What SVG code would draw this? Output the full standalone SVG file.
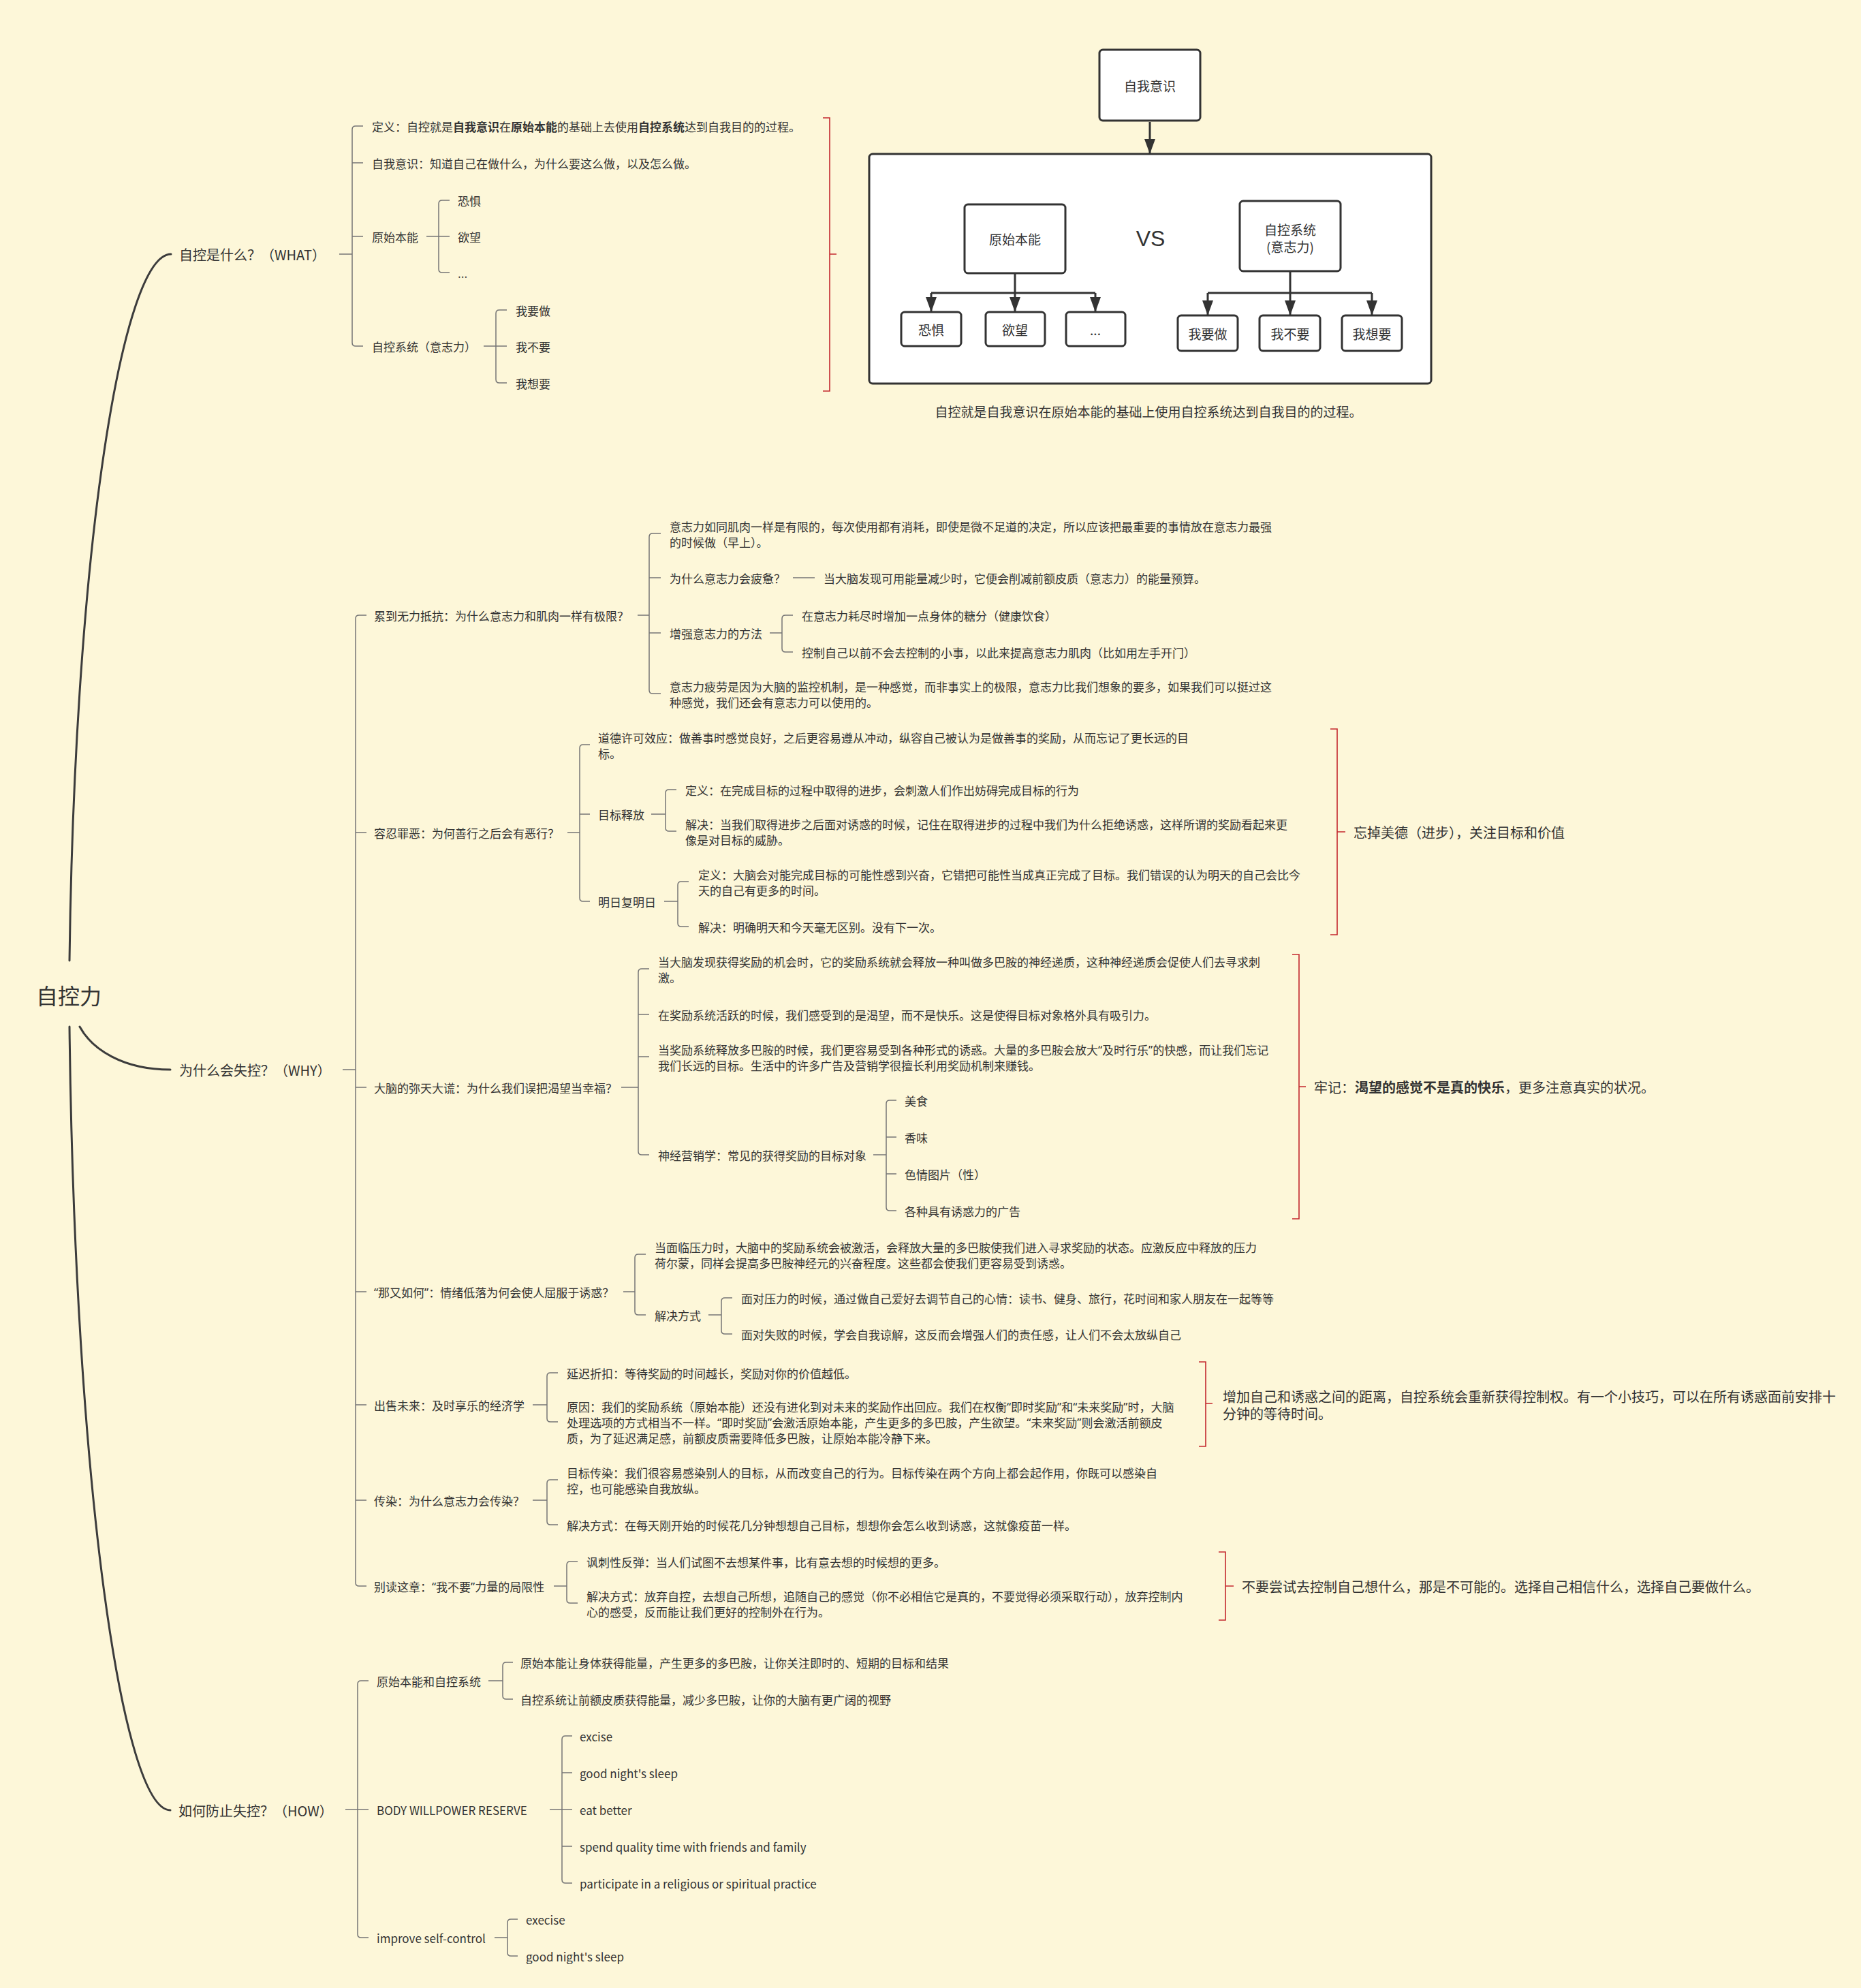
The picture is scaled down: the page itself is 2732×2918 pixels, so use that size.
<svg xmlns="http://www.w3.org/2000/svg" width="2732" height="2918" viewBox="0 0 2732 2918">
<style>
text{font-family:"Noto Sans CJK SC","Noto Sans",sans-serif;fill:#333;dominant-baseline:central}
.s{font-size:17px}
.m{font-size:20px}
.r{font-size:32px}
.d{font-size:19px}
.c{text-anchor:middle}
.b{font-weight:bold}
.q{font-family:"Noto Sans",sans-serif}
.ln{fill:none;stroke:#757575;stroke-width:1.5}
.rd{fill:none;stroke:#c3282e;stroke-width:1.6}
.mn{fill:none;stroke:#3c3c3c;stroke-width:3;stroke-linecap:round}
.bx{fill:#fff;stroke:#333;stroke-width:3}
.ar{fill:none;stroke:#333;stroke-width:3}
.en{font-family:"Liberation Sans",sans-serif}
</style>
<defs>
<marker id="ah" viewBox="0 0 22 16" refX="22" refY="8" markerWidth="22" markerHeight="16" markerUnits="userSpaceOnUse" orient="auto">
<path d="M0 0 L22 8 L0 16 z" fill="#333"/>
</marker>
</defs>
<rect width="2732" height="2918" fill="#fdf7d9"/>

<g id="n-diagram">
<rect class="bx" x="1614" y="73" width="148" height="104" rx="5"/>
<text class="d c" x="1688" y="125">自我意识</text>
<rect class="bx" x="1276" y="226" width="825" height="337" rx="5"/>
<rect class="bx" x="1416" y="300" width="148" height="101" rx="5"/>
<text class="d c" x="1490" y="350">原始本能</text>
<text class="c en" x="1689" y="350" font-size="32">VS</text>
<rect class="bx" x="1820" y="295" width="148" height="103" rx="5"/>
<text class="d c" x="1894" y="336">自控系统</text>
<text class="d c" x="1894" y="361">(意志力)</text>
<rect class="bx" x="1323" y="458" width="88" height="50" rx="5"/>
<text class="d c" x="1367" y="483">恐惧</text>
<rect class="bx" x="1447" y="458" width="87" height="50" rx="5"/>
<text class="d c" x="1490" y="483">欲望</text>
<rect class="bx" x="1565" y="458" width="87" height="50" rx="5"/>
<text class="d c" x="1608" y="483">...</text>
<rect class="bx" x="1729" y="463" width="88" height="52" rx="5"/>
<text class="d c" x="1773" y="489">我要做</text>
<rect class="bx" x="1849" y="463" width="89" height="52" rx="5"/>
<text class="d c" x="1894" y="489">我不要</text>
<rect class="bx" x="1970" y="463" width="88" height="52" rx="5"/>
<text class="d c" x="2014" y="489">我想要</text>
<text class="d c" x="1686" y="603">自控就是自我意识在原始本能的基础上使用自控系统达到自我目的的过程。</text>
</g>

<g id="connectors">
<path class="mn" d="M102 1410 C110 800 180 373 251 373"/>
<path class="mn" d="M117 1507 C135 1540 180 1570 250 1570"/>
<path class="mn" d="M102 1507 C110 2183 180 2657 250 2657"/>
<!-- WHAT -->
<path class="ln" d="M533 185 L522 185 Q517 185 517 190 L517 503 Q517 508 522 508 L533 508 M517 239 H533 M517 347 H533 M498 373 H517"/>
<path class="ln" d="M660 294 L649 294 Q644 294 644 299 L644 395 Q644 400 649 400 L660 400 M626 347 H660"/>
<path class="ln" d="M744 455 L733 455 Q728 455 728 460 L728 557 Q728 562 733 562 L744 562 M710 508 H744"/>
<path class="rd" d="M1208 173 H1218 V574 H1208 M1218 373 H1228"/>
<!-- WHY -->
<path class="ln" d="M538 903 L527 903 Q522 903 522 908 L522 2323 Q522 2328 527 2328 L538 2328 M522 1222 H538 M522 1596 H538 M522 1896 H538 M522 2062 H538 M522 2202 H538 M503 1570 H522"/>
<path class="ln" d="M970 783 L958 783 Q953 783 953 788 L953 1013 Q953 1018 958 1018 L970 1018 M953 848 H970 M953 929 H970 M936 903 H953"/>
<path class="ln" d="M1164 848 H1196"/>
<path class="ln" d="M1164 903 L1153 903 Q1148 903 1148 908 L1148 952 Q1148 957 1153 957 L1164 957 M1130 929 H1148"/>
<path class="ln" d="M866 1093 L856 1093 Q851 1093 851 1098 L851 1318 Q851 1323 856 1323 L866 1323 M851 1195 H866 M833 1222 H851"/>
<path class="ln" d="M993 1159 L982 1159 Q977 1159 977 1164 L977 1215 Q977 1220 982 1220 L993 1220 M956 1195 H977"/>
<path class="ln" d="M1011 1294 L1000 1294 Q995 1294 995 1299 L995 1355 Q995 1360 1000 1360 L1011 1360 M975 1323 H995"/>
<path class="rd" d="M1953 1070 H1963 V1372 H1953 M1963 1221 H1975"/>
<path class="ln" d="M953 1422 L942 1422 Q937 1422 937 1427 L937 1690 Q937 1695 942 1695 L953 1695 M937 1489 H953 M937 1551 H953 M912 1596 H937"/>
<path class="ln" d="M1316 1615 L1306 1615 Q1301 1615 1301 1620 L1301 1772 Q1301 1777 1306 1777 L1316 1777 M1301 1669 H1316 M1301 1723 H1316 M1282 1695 H1301"/>
<path class="rd" d="M1897 1401 H1907 V1789 H1897 M1907 1595 H1917"/>
<path class="ln" d="M948 1841 L937 1841 Q932 1841 932 1846 L932 1925 Q932 1930 937 1930 L948 1930 M915 1896 H932"/>
<path class="ln" d="M1075 1905 L1064 1905 Q1059 1905 1059 1910 L1059 1953 Q1059 1958 1064 1958 L1075 1958 M1040 1930 H1059"/>
<path class="ln" d="M819 2015 L808 2015 Q803 2015 803 2020 L803 2082 Q803 2087 808 2087 L819 2087 M782 2062 H803"/>
<path class="rd" d="M1760 1999 H1770 V2123 H1760 M1770 2060 H1780"/>
<path class="ln" d="M819 2172 L808 2172 Q803 2172 803 2177 L803 2233 Q803 2238 808 2238 L819 2238 M782 2202 H803"/>
<path class="ln" d="M848 2292 L837 2292 Q832 2292 832 2297 L832 2348 Q832 2353 837 2353 L848 2353 M813 2328 H832"/>
<path class="rd" d="M1789 2278 H1799 V2378 H1789 M1799 2328 H1811"/>
<!-- HOW -->
<path class="ln" d="M541 2467 L530 2467 Q525 2467 525 2472 L525 2839 Q525 2844 530 2844 L541 2844 M507 2656 H541"/>
<path class="ln" d="M753 2440 L743 2440 Q738 2440 738 2445 L738 2489 Q738 2494 743 2494 L753 2494 M717 2467 H738"/>
<path class="ln" d="M840 2548 L830 2548 Q825 2548 825 2553 L825 2759 Q825 2764 830 2764 L840 2764 M825 2602 H840 M825 2710 H840 M807 2656 H840"/>
<path class="ln" d="M760 2817 L750 2817 Q745 2817 745 2822 L745 2866 Q745 2871 750 2871 L760 2871 M726 2844 H745"/>
<!-- diagram arrows -->
<path class="ar" d="M1688 179 V226" marker-end="url(#ah)"/>
<path class="ar" d="M1490 402 V430 M1367 430 H1608"/>
<path class="ar" d="M1367 430 V458" marker-end="url(#ah)"/>
<path class="ar" d="M1490 430 V458" marker-end="url(#ah)"/>
<path class="ar" d="M1608 430 V458" marker-end="url(#ah)"/>
<path class="ar" d="M1894 399 V430 M1773 430 H2014"/>
<path class="ar" d="M1773 430 V463" marker-end="url(#ah)"/>
<path class="ar" d="M1894 430 V463" marker-end="url(#ah)"/>
<path class="ar" d="M2014 430 V463" marker-end="url(#ah)"/>
</g>

<g id="n-root"><text class="r" x="53" y="1460">自控力</text></g>

<g id="n-what"><text class="m" x="263" y="373">自控是什么？（WHAT）</text></g>
<g id="n-what-def"><text class="s" x="546" y="185">定义：自控就是<tspan class="b">自我意识</tspan>在<tspan class="b">原始本能</tspan>的基础上去使用<tspan class="b">自控系统</tspan>达到自我目的的过程。</text></g>
<g id="n-what-self"><text class="s" x="546" y="239">自我意识：知道自己在做什么，为什么要这么做，以及怎么做。</text></g>
<g id="n-what-inst"><text class="s" x="546" y="347">原始本能</text></g>
<g id="n-inst-1"><text class="s" x="672" y="294">恐惧</text></g>
<g id="n-inst-2"><text class="s" x="672" y="347">欲望</text></g>
<g id="n-inst-3"><text class="s" x="672" y="400">...</text></g>
<g id="n-what-sys"><text class="s" x="546" y="508">自控系统（意志力）</text></g>
<g id="n-sys-1"><text class="s" x="757" y="455">我要做</text></g>
<g id="n-sys-2"><text class="s" x="757" y="508">我不要</text></g>
<g id="n-sys-3"><text class="s" x="757" y="562">我想要</text></g>

<g id="n-why"><text class="m" x="263" y="1570">为什么会失控？（WHY）</text></g>

<g id="n-w1"><text class="s" x="549" y="903">累到无力抵抗：为什么意志力和肌肉一样有极限？</text></g>
<g id="n-w1a"><text class="s" x="983" y="772">意志力如同肌肉一样是有限的，每次使用都有消耗，即使是微不足道的决定，所以应该把最重要的事情放在意志力最强</text><text class="s" x="983" y="795">的时候做（早上）。</text></g>
<g id="n-w1b"><text class="s" x="983" y="848">为什么意志力会疲惫？</text></g>
<g id="n-w1b1"><text class="s" x="1209" y="848">当大脑发现可用能量减少时，它便会削减前额皮质（意志力）的能量预算。</text></g>
<g id="n-w1c"><text class="s" x="983" y="929">增强意志力的方法</text></g>
<g id="n-w1c1"><text class="s" x="1177" y="903">在意志力耗尽时增加一点身体的糖分（健康饮食）</text></g>
<g id="n-w1c2"><text class="s" x="1177" y="957">控制自己以前不会去控制的小事，以此来提高意志力肌肉（比如用左手开门）</text></g>
<g id="n-w1d"><text class="s" x="983" y="1007">意志力疲劳是因为大脑的监控机制，是一种感觉，而非事实上的极限，意志力比我们想象的要多，如果我们可以挺过这</text><text class="s" x="983" y="1030">种感觉，我们还会有意志力可以使用的。</text></g>

<g id="n-w2"><text class="s" x="549" y="1222">容忍罪恶：为何善行之后会有恶行？</text></g>
<g id="n-w2a"><text class="s" x="878" y="1082">道德许可效应：做善事时感觉良好，之后更容易遵从冲动，纵容自己被认为是做善事的奖励，从而忘记了更长远的目</text><text class="s" x="878" y="1105">标。</text></g>
<g id="n-w2b"><text class="s" x="878" y="1195">目标释放</text></g>
<g id="n-w2b1"><text class="s" x="1006" y="1159">定义：在完成目标的过程中取得的进步，会刺激人们作出妨碍完成目标的行为</text></g>
<g id="n-w2b2"><text class="s" x="1006" y="1209">解决：当我们取得进步之后面对诱惑的时候，记住在取得进步的过程中我们为什么拒绝诱惑，这样所谓的奖励看起来更</text><text class="s" x="1006" y="1232">像是对目标的威胁。</text></g>
<g id="n-w2c"><text class="s" x="878" y="1323">明日复明日</text></g>
<g id="n-w2c1"><text class="s" x="1025" y="1283">定义：大脑会对能完成目标的可能性感到兴奋，它错把可能性当成真正完成了目标。我们错误的认为明天的自己会比今</text><text class="s" x="1025" y="1306">天的自己有更多的时间。</text></g>
<g id="n-w2c2"><text class="s" x="1025" y="1360">解决：明确明天和今天毫无区别。没有下一次。</text></g>
<g id="n-w2s"><text class="m" x="1987" y="1221">忘掉美德（进步），关注目标和价值</text></g>

<g id="n-w3"><text class="s" x="549" y="1596">大脑的弥天大谎：为什么我们误把渴望当幸福？</text></g>
<g id="n-w3a"><text class="s" x="966" y="1411">当大脑发现获得奖励的机会时，它的奖励系统就会释放一种叫做多巴胺的神经递质，这种神经递质会促使人们去寻求刺</text><text class="s" x="966" y="1434">激。</text></g>
<g id="n-w3b"><text class="s" x="966" y="1489">在奖励系统活跃的时候，我们感受到的是渴望，而不是快乐。这是使得目标对象格外具有吸引力。</text></g>
<g id="n-w3c"><text class="s" x="966" y="1540">当奖励系统释放多巴胺的时候，我们更容易受到各种形式的诱惑。大量的多巴胺会放大<tspan class="q">“</tspan>及时行乐<tspan class="q">”</tspan>的快感，而让我们忘记</text><text class="s" x="966" y="1563">我们长远的目标。生活中的许多广告及营销学很擅长利用奖励机制来赚钱。</text></g>
<g id="n-w3d"><text class="s" x="966" y="1695">神经营销学：常见的获得奖励的目标对象</text></g>
<g id="n-w3d1"><text class="s" x="1328" y="1615">美食</text></g>
<g id="n-w3d2"><text class="s" x="1328" y="1669">香味</text></g>
<g id="n-w3d3"><text class="s" x="1328" y="1723">色情图片（性）</text></g>
<g id="n-w3d4"><text class="s" x="1328" y="1777">各种具有诱惑力的广告</text></g>
<g id="n-w3s"><text class="m" x="1929" y="1595">牢记：<tspan class="b">渴望的感觉不是真的快乐</tspan>，更多注意真实的状况。</text></g>

<g id="n-w4"><text class="s" x="549" y="1896"><tspan class="q">“</tspan>那又如何<tspan class="q">”</tspan>：情绪低落为何会使人屈服于诱惑？</text></g>
<g id="n-w4a"><text class="s" x="961" y="1830">当面临压力时，大脑中的奖励系统会被激活，会释放大量的多巴胺使我们进入寻求奖励的状态。应激反应中释放的压力</text><text class="s" x="961" y="1853">荷尔蒙，同样会提高多巴胺神经元的兴奋程度。这些都会使我们更容易受到诱惑。</text></g>
<g id="n-w4b"><text class="s" x="961" y="1930">解决方式</text></g>
<g id="n-w4b1"><text class="s" x="1088" y="1905">面对压力的时候，通过做自己爱好去调节自己的心情：读书、健身、旅行，花时间和家人朋友在一起等等</text></g>
<g id="n-w4b2"><text class="s" x="1088" y="1958">面对失败的时候，学会自我谅解，这反而会增强人们的责任感，让人们不会太放纵自己</text></g>

<g id="n-w5"><text class="s" x="549" y="2062">出售未来：及时享乐的经济学</text></g>
<g id="n-w5a"><text class="s" x="832" y="2015">延迟折扣：等待奖励的时间越长，奖励对你的价值越低。</text></g>
<g id="n-w5b"><text class="s" x="832" y="2064">原因：我们的奖励系统（原始本能）还没有进化到对未来的奖励作出回应。我们在权衡<tspan class="q">“</tspan>即时奖励<tspan class="q">”</tspan>和<tspan class="q">“</tspan>未来奖励<tspan class="q">”</tspan>时，大脑</text><text class="s" x="832" y="2087">处理选项的方式相当不一样。<tspan class="q">“</tspan>即时奖励<tspan class="q">”</tspan>会激活原始本能，产生更多的多巴胺，产生欲望。<tspan class="q">“</tspan>未来奖励<tspan class="q">”</tspan>则会激活前额皮</text><text class="s" x="832" y="2110">质，为了延迟满足感，前额皮质需要降低多巴胺，让原始本能冷静下来。</text></g>
<g id="n-w5s"><text class="m" x="1795" y="2049">增加自己和诱惑之间的距离，自控系统会重新获得控制权。有一个小技巧，可以在所有诱惑面前安排十</text><text class="m" x="1795" y="2074">分钟的等待时间。</text></g>

<g id="n-w6"><text class="s" x="549" y="2202">传染：为什么意志力会传染？</text></g>
<g id="n-w6a"><text class="s" x="832" y="2161">目标传染：我们很容易感染别人的目标，从而改变自己的行为。目标传染在两个方向上都会起作用，你既可以感染自</text><text class="s" x="832" y="2184">控，也可能感染自我放纵。</text></g>
<g id="n-w6b"><text class="s" x="832" y="2238">解决方式：在每天刚开始的时候花几分钟想想自己目标，想想你会怎么收到诱惑，这就像疫苗一样。</text></g>

<g id="n-w7"><text class="s" x="549" y="2328">别读这章：<tspan class="q">“</tspan>我不要<tspan class="q">”</tspan>力量的局限性</text></g>
<g id="n-w7a"><text class="s" x="861" y="2292">讽刺性反弹：当人们试图不去想某件事，比有意去想的时候想的更多。</text></g>
<g id="n-w7b"><text class="s" x="861" y="2342">解决方式：放弃自控，去想自己所想，追随自己的感觉（你不必相信它是真的，不要觉得必须采取行动），放弃控制内</text><text class="s" x="861" y="2365">心的感受，反而能让我们更好的控制外在行为。</text></g>
<g id="n-w7s"><text class="m" x="1823" y="2328">不要尝试去控制自己想什么，那是不可能的。选择自己相信什么，选择自己要做什么。</text></g>

<g id="n-how"><text class="m" x="262" y="2657">如何防止失控？（HOW）</text></g>
<g id="n-h1"><text class="s" x="553" y="2467">原始本能和自控系统</text></g>
<g id="n-h1a"><text class="s" x="764" y="2440">原始本能让身体获得能量，产生更多的多巴胺，让你关注即时的、短期的目标和结果</text></g>
<g id="n-h1b"><text class="s" x="764" y="2494">自控系统让前额皮质获得能量，减少多巴胺，让你的大脑有更广阔的视野</text></g>
<g id="n-h2"><text class="s" x="553" y="2656">BODY WILLPOWER RESERVE</text></g>
<g id="n-h2a"><text class="s" x="851" y="2548">excise</text></g>
<g id="n-h2b"><text class="s" x="851" y="2602">good night's sleep</text></g>
<g id="n-h2c"><text class="s" x="851" y="2656">eat better</text></g>
<g id="n-h2d"><text class="s" x="851" y="2710">spend quality time with friends and family</text></g>
<g id="n-h2e"><text class="s" x="851" y="2764">participate in a religious or spiritual practice</text></g>
<g id="n-h3"><text class="s" x="553" y="2844">improve self-control</text></g>
<g id="n-h3a"><text class="s" x="772" y="2817">execise</text></g>
<g id="n-h3b"><text class="s" x="772" y="2871">good night's sleep</text></g>
</svg>
